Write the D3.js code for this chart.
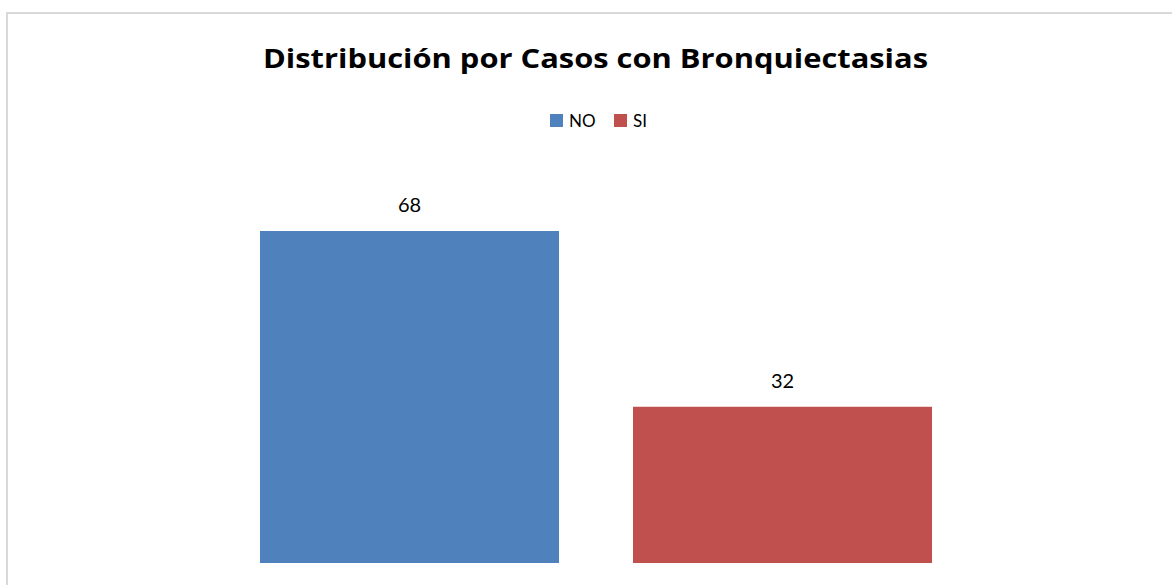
<html>
<head>
	<meta charset="utf-8">
	<title>Bronquiectasias</title>
	<script src="https://d3js.org/d3.v7.min.js"></script>
</head>
<body style="margin:0; background-color:#ffffff">
<div id="dataviz"></div>
<script>

	//chart data
	var categories = ['NO', 'SI'];
	var values = [68, 32];
	var colors = ['#4f81bd', '#c0504d'];
	var title = 'Distribución por Casos con Bronquiectasias';

	var width = 1172;
	var height = 585;

	var svg = d3.select('#dataviz')
		.append('svg')
		.attr('width', width)
		.attr('height', height)
		.style('display', 'block');

	//chart frame, runs off the right and bottom edge like the picture
	svg.append('rect')
		.attr('x', 7).attr('y', 13)
		.attr('width', 1178).attr('height', 600)
		.attr('fill', 'white')
		.attr('stroke', '#d9d9d9')
		.attr('stroke-width', 2);

	//title, fitted to the width of the original text
	svg.append('text')
		.attr('x', 595.5)
		.attr('y', 68)
		.attr('text-anchor', 'middle')
		.attr('font-family', 'Open Sans')
		.attr('font-weight', 'bold')
		.attr('font-size', 27)
		.attr('textLength', 665)
		.attr('lengthAdjust', 'spacingAndGlyphs')
		.attr('fill', 'black')
		.text(title);

	//scales
	var x = d3.scaleBand()
		.domain(categories)
		.range([223, 969])
		.paddingInner(74 / 373)
		.paddingOuter(37 / 373);

	var y = d3.scaleLinear()
		.domain([0, 80])
		.range([563, 172.4]);

	//bars
	svg.selectAll('.bar')
		.data(values)
		.enter()
		.append('rect')
		.attr('class', 'bar')
		.attr('x', function(d, i){ return x(categories[i]); })
		.attr('y', function(d){ return y(d); })
		.attr('width', x.bandwidth())
		.attr('height', function(d){ return y(0) - y(d); })
		.attr('fill', function(d, i){ return colors[i]; });

	//value labels
	svg.selectAll('.label')
		.data(values)
		.enter()
		.append('text')
		.attr('class', 'label')
		.attr('x', function(d, i){ return x(categories[i]) + x.bandwidth() / 2; })
		.attr('y', function(d){ return y(d) - 19; })
		.attr('text-anchor', 'middle')
		.attr('font-family', 'Lato')
		.attr('font-size', 20)
		.attr('fill', 'black')
		.text(function(d){ return d; });

	//legend
	var legendX = [550, 614];
	var legend = svg.selectAll('.legend')
		.data(categories)
		.enter()
		.append('g')
		.attr('class', 'legend')
		.attr('transform', function(d, i){ return 'translate(' + legendX[i] + ',114)'; });

	legend.append('rect')
		.attr('width', 13)
		.attr('height', 13)
		.attr('fill', function(d, i){ return colors[i]; });

	legend.append('text')
		.attr('x', 19)
		.attr('y', 13)
		.attr('font-family', 'Lato')
		.attr('font-size', 17)
		.attr('fill', 'black')
		.text(function(d){ return d; });

</script>
</body>
</html>
